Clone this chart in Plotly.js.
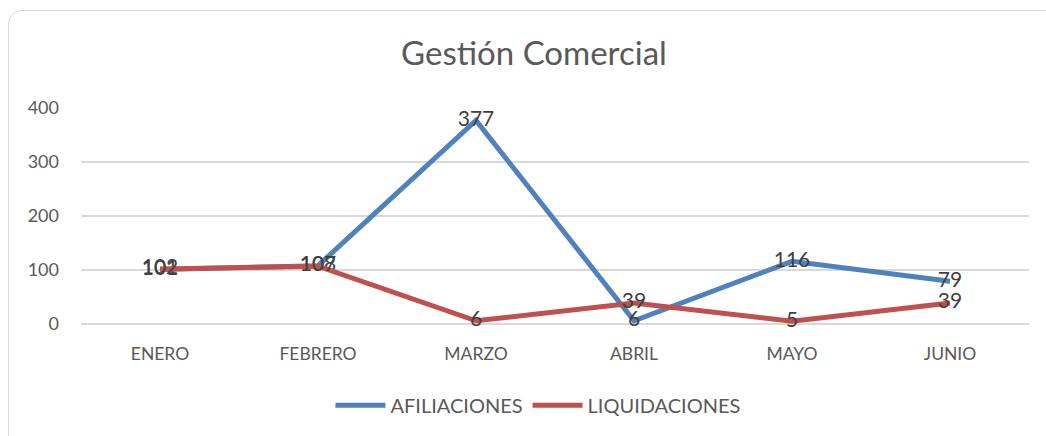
<!DOCTYPE html>
<html><head><meta charset="utf-8">
<script src="https://cdn.plot.ly/plotly-3.0.1.min.js"></script>
<style>
html,body{margin:0;padding:0;background:#fff;}
#wrap{position:absolute;left:8px;top:10px;width:1050px;height:440px;border:1.5px solid #d9d9d9;border-radius:14px;box-sizing:border-box;}
#chart{position:absolute;left:0;top:0;width:1046px;height:436px;}
</style></head>
<body>
<div id="wrap"></div>
<div id="chart"></div>
<script>
const months = ["ENERO","FEBRERO","MARZO","ABRIL","MAYO","JUNIO"];
const afiliaciones = [101, 108, 377, 6, 116, 79];
const liquidaciones = [102, 107, 6, 39, 5, 39];
const yTicks = [0, 100, 200, 300, 400];

const labelFont = {family: "Lato, 'Open Sans', sans-serif", size: 21, color: "#404040"};
const traces = [
  {x: months, y: afiliaciones, name: "AFILIACIONES", mode: "lines+text",
   text: afiliaciones.map(String), textposition: "middle center", textfont: labelFont,
   line: {color: "#4f81bd", width: 5}, cliponaxis: false},
  {x: months, y: liquidaciones, name: "LIQUIDACIONES", mode: "lines+text",
   text: liquidaciones.map(String), textposition: "middle center", textfont: labelFont,
   line: {color: "#c0504d", width: 5}, cliponaxis: false}
];
const layout = {
  width: 1046, height: 436,
  margin: {l: 81, r: 17, t: 108, b: 111},
  paper_bgcolor: "rgba(0,0,0,0)", plot_bgcolor: "rgba(0,0,0,0)",
  font: {family: "Lato, 'Open Sans', sans-serif", color: "#595959"},
  title: {text: "Gestión Comercial", font: {size: 33, color: "#595959"},
          xref: "container", x: 0.5105, xanchor: "center", yref: "container", y: 0.877, yanchor: "middle"},
  xaxis: {type: "category", range: [-0.5, 5.5], showgrid: false, zeroline: false, showline: false, ticks: "",
          tickfont: {size: 17.5, color: "#595959"}, ticklabelstandoff: 17, fixedrange: true},
  yaxis: {range: [0, 400], tickvals: yTicks, ticktext: yTicks.map(String), showgrid: true,
          gridcolor: "#d9d9d9", gridwidth: 1.3, zeroline: true, zerolinecolor: "#d9d9d9", zerolinewidth: 1.3,
          showline: false, ticks: "", tickfont: {size: 18, color: "#595959"}, ticklabelstandoff: 21, fixedrange: true},
  showlegend: true,
  legend: {orientation: "h", x: 0.482, xanchor: "center", y: -0.37, yanchor: "middle",
           font: {size: 20, color: "#595959"}, itemwidth: 50},
  hovermode: false
};
Plotly.newPlot("chart", traces, layout, {displayModeBar: false, staticPlot: true});
</script>
</body></html>
